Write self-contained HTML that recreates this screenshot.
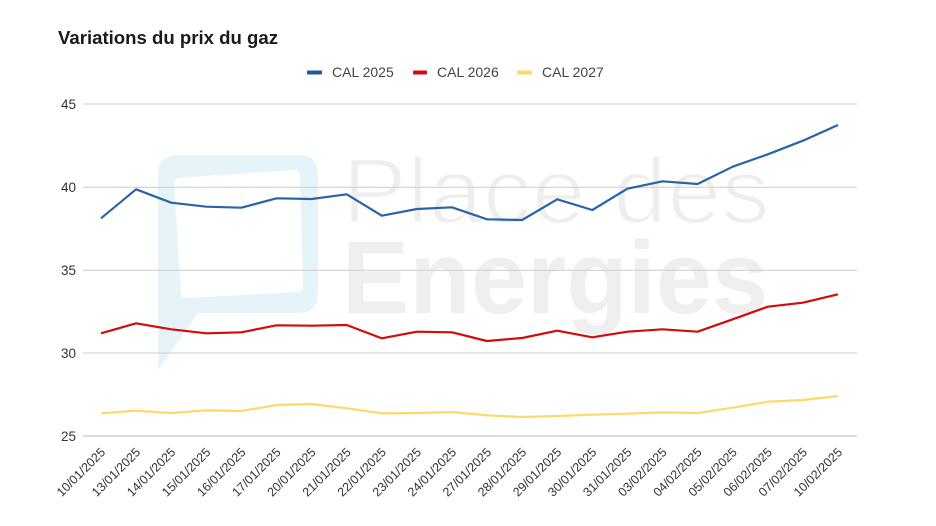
<!DOCTYPE html>
<html>
<head>
<meta charset="utf-8">
<style>
  html, body { margin:0; padding:0; background:#ffffff; }
  svg { display:block; }
  text { font-family: "Liberation Sans", Arial, sans-serif; }
</style>
</head>
<body>
<svg width="936" height="526" viewBox="0 0 936 526" xmlns="http://www.w3.org/2000/svg">
  <rect x="0" y="0" width="936" height="526" fill="#ffffff"/>

  <!-- watermark -->
  <path d="M178,155 H298 Q318,155 318,175 V293 Q318,313 298,313 H198 L158,370 V175 Q158,155 178,155 Z" fill="#e6f4f9"/>
  <polygon points="179,183 295,175 298,287 186,293" fill="#ffffff" stroke="#ffffff" stroke-width="10" stroke-linejoin="round"/>
  <text x="342" y="223" font-size="93" fill="#eeeeee" stroke="#ffffff" stroke-width="2.5" textLength="428" lengthAdjust="spacingAndGlyphs">Place des</text>
  <text x="342" y="313" font-size="103" font-weight="bold" fill="#efefef" textLength="426" lengthAdjust="spacingAndGlyphs">Energies</text>

  <!-- title -->
  <text x="58" y="44" font-size="18.5" font-weight="bold" fill="#1a1a1a" textLength="220" lengthAdjust="spacingAndGlyphs">Variations du prix du gaz</text>

  <!-- legend -->
  <rect x="307" y="70.5" width="15" height="4" rx="1" fill="#1f5a9e"/>
  <text x="332" y="77" font-size="14" fill="#444444">CAL 2025</text>
  <rect x="413" y="70.5" width="14" height="4" rx="1" fill="#d40b0b"/>
  <text x="437" y="77" font-size="14" fill="#444444">CAL 2026</text>
  <rect x="517" y="70.5" width="15" height="4" rx="1" fill="#ffd966"/>
  <text x="542" y="77" font-size="14" fill="#444444">CAL 2027</text>

  <!-- gridlines -->
  <g stroke="#d6d6d6" stroke-width="1.2">
    <line x1="83" y1="104" x2="857" y2="104"/>
    <line x1="83" y1="187.4" x2="857" y2="187.4"/>
    <line x1="83" y1="270.4" x2="857" y2="270.4"/>
    <line x1="83" y1="353" x2="857" y2="353"/>
  </g>
  <line x1="83" y1="436" x2="857" y2="436" stroke="#d0d0d0" stroke-width="1.6"/>

  <!-- y labels -->
  <g font-size="13.5" fill="#333333" text-anchor="end">
    <text x="76" y="109">45</text>
    <text x="76" y="192">40</text>
    <text x="76" y="275">35</text>
    <text x="76" y="358">30</text>
    <text x="76" y="441">25</text>
  </g>

  <!-- series -->
  <polyline fill="none" stroke="#ffd966" stroke-width="2.2" stroke-linejoin="round"
    points="101,413.3 136.1,410.7 171.2,413 206.3,410.3 241.4,411 276.5,405 311.6,404 346.7,408.3 381.8,413.3 416.9,413 452,412 487,415.3 522.1,417 557.2,416 592.3,414.7 627.4,413.7 662.5,412.3 697.6,413 732.7,407.7 767.8,401.7 802.9,400 838,396"/>
  <polyline fill="none" stroke="#d40b0b" stroke-width="2.2" stroke-linejoin="round"
    points="101,333.3 136.1,323.3 171.2,329.3 206.3,333.3 241.4,332.3 276.5,325.3 311.6,325.7 346.7,325 381.8,338.3 416.9,331.7 452,332.3 487,341 522.1,338 557.2,330.7 592.3,337.3 627.4,331.7 662.5,329.3 697.6,331.7 732.7,319.3 767.8,306.7 802.9,302.7 838,294.3"/>
  <polyline fill="none" stroke="#2a64a6" stroke-width="2.2" stroke-linejoin="round"
    points="101,218.3 136.1,189.3 171.2,202.7 206.3,206.7 241.4,207.7 276.5,198.3 311.6,199 346.7,194.3 381.8,215.7 416.9,209 452,207.3 487,219.3 522.1,220 557.2,199.3 592.3,210 627.4,188.7 662.5,181.3 697.6,184 732.7,166.7 767.8,154.3 802.9,140.7 838,125"/>

  <!-- x labels -->
  <g font-size="12.5" fill="#333333" text-anchor="end">
    <text transform="translate(106,453) rotate(-45)">10/01/2025</text>
    <text transform="translate(141.1,453) rotate(-45)">13/01/2025</text>
    <text transform="translate(176.2,453) rotate(-45)">14/01/2025</text>
    <text transform="translate(211.3,453) rotate(-45)">15/01/2025</text>
    <text transform="translate(246.4,453) rotate(-45)">16/01/2025</text>
    <text transform="translate(281.5,453) rotate(-45)">17/01/2025</text>
    <text transform="translate(316.6,453) rotate(-45)">20/01/2025</text>
    <text transform="translate(351.7,453) rotate(-45)">21/01/2025</text>
    <text transform="translate(386.8,453) rotate(-45)">22/01/2025</text>
    <text transform="translate(421.9,453) rotate(-45)">23/01/2025</text>
    <text transform="translate(457,453) rotate(-45)">24/01/2025</text>
    <text transform="translate(492,453) rotate(-45)">27/01/2025</text>
    <text transform="translate(527.1,453) rotate(-45)">28/01/2025</text>
    <text transform="translate(562.2,453) rotate(-45)">29/01/2025</text>
    <text transform="translate(597.3,453) rotate(-45)">30/01/2025</text>
    <text transform="translate(632.4,453) rotate(-45)">31/01/2025</text>
    <text transform="translate(667.5,453) rotate(-45)">03/02/2025</text>
    <text transform="translate(702.6,453) rotate(-45)">04/02/2025</text>
    <text transform="translate(737.7,453) rotate(-45)">05/02/2025</text>
    <text transform="translate(772.8,453) rotate(-45)">06/02/2025</text>
    <text transform="translate(807.9,453) rotate(-45)">07/02/2025</text>
    <text transform="translate(843,453) rotate(-45)">10/02/2025</text>
  </g>
</svg>
</body>
</html>
